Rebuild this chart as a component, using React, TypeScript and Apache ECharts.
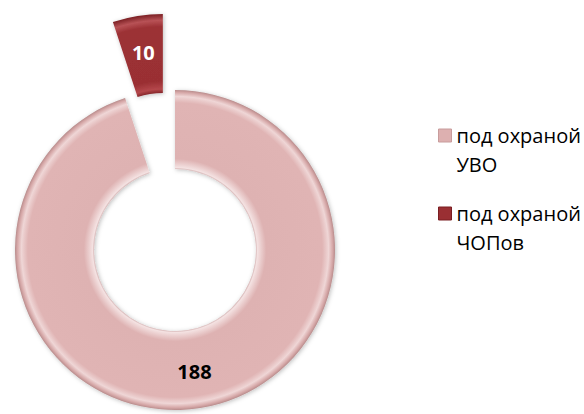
import React, { useEffect, useRef } from 'react';
import * as echarts from 'echarts';

const categories = ['под охраной УВО', 'под охраной ЧОПов'];
const values = [188, 10];
const baseColors = ['#DDB0B0', '#9A2F33'];
const labelColors = ['#000000', '#FFFFFF'];

export default function App() {
  const ref = useRef<HTMLDivElement>(null);
  useEffect(() => {
    const chart = echarts.init(ref.current as HTMLDivElement, null, { renderer: 'svg' });
    const cx = 175;
    const cy = 250;
    const r0 = 81;
    const r1 = 160;
    const radial = (stops: [number, string][]) => ({
      type: 'radial',
      x: cx,
      y: cy,
      r: r1,
      global: true,
      colorStops: stops.map(([offset, color]) => ({ offset, color })),
    });
    const fills = [
      radial([
        [0.5, '#c49a9a'],
        [0.515, '#f4e2e2'],
        [0.57, '#deb2b2'],
        [0.92, '#e0b4b4'],
        [0.96, '#efd6d6'],
        [0.985, '#d6a8a8'],
        [1, '#b88c8c'],
      ]),
      radial([
        [0.5, '#7a1e22'],
        [0.53, '#b4474b'],
        [0.58, '#9a2f33'],
        [0.92, '#9c3135'],
        [0.96, '#b85256'],
        [1, '#7a1e22'],
      ]),
    ];
    const option = {
      animation: false,
      legend: {
        orient: 'vertical',
        left: 433,
        top: 87,
        itemWidth: 13,
        itemHeight: 13,
        itemGap: -9,
        icon: 'rect',
        selectedMode: false,
        formatter: (name: string) => {
          const i = name.lastIndexOf(' ');
          return '\n' + name.slice(0, i) + '\n' + name.slice(i + 1);
        },
        textStyle: {
          fontFamily: 'Open Sans',
          fontSize: 20,
          lineHeight: 29,
          color: '#000000',
        },
        data: categories.map((name, i) => ({
          name,
          itemStyle: { color: baseColors[i], borderColor: i === 0 ? '#c89c9c' : '#7a1e22', borderWidth: 1 },
        })),
      },
      series: [
        {
          type: 'pie',
          center: [cx, cy],
          radius: [r0, r1],
          startAngle: 90,
          clockwise: true,
          selectedMode: 'single',
          selectedOffset: 77,
          avoidLabelOverlap: false,
          emphasis: { disabled: true },
          labelLine: { show: false },
          label: {
            show: true,
            position: 'inside',
            formatter: '{c}',
            fontFamily: 'Open Sans',
            fontWeight: 'bold',
            fontSize: 20,
          },
          data: categories.map((name, i) => ({
            name,
            value: values[i],
            selected: i === 1,
            itemStyle: {
              color: fills[i],
              shadowBlur: 4,
              shadowColor: 'rgba(0,0,0,0.25)',
              shadowOffsetX: 1,
              shadowOffsetY: 1,
            },
            label: { color: labelColors[i] },
          })),
        },
      ],
    };
    chart.setOption(option as any);
    return () => chart.dispose();
  }, []);
  return (
    <div
      ref={ref}
      style={{ position: 'absolute', left: 0, top: 0, width: 584, height: 414, background: '#ffffff' }}
    />
  );
}
